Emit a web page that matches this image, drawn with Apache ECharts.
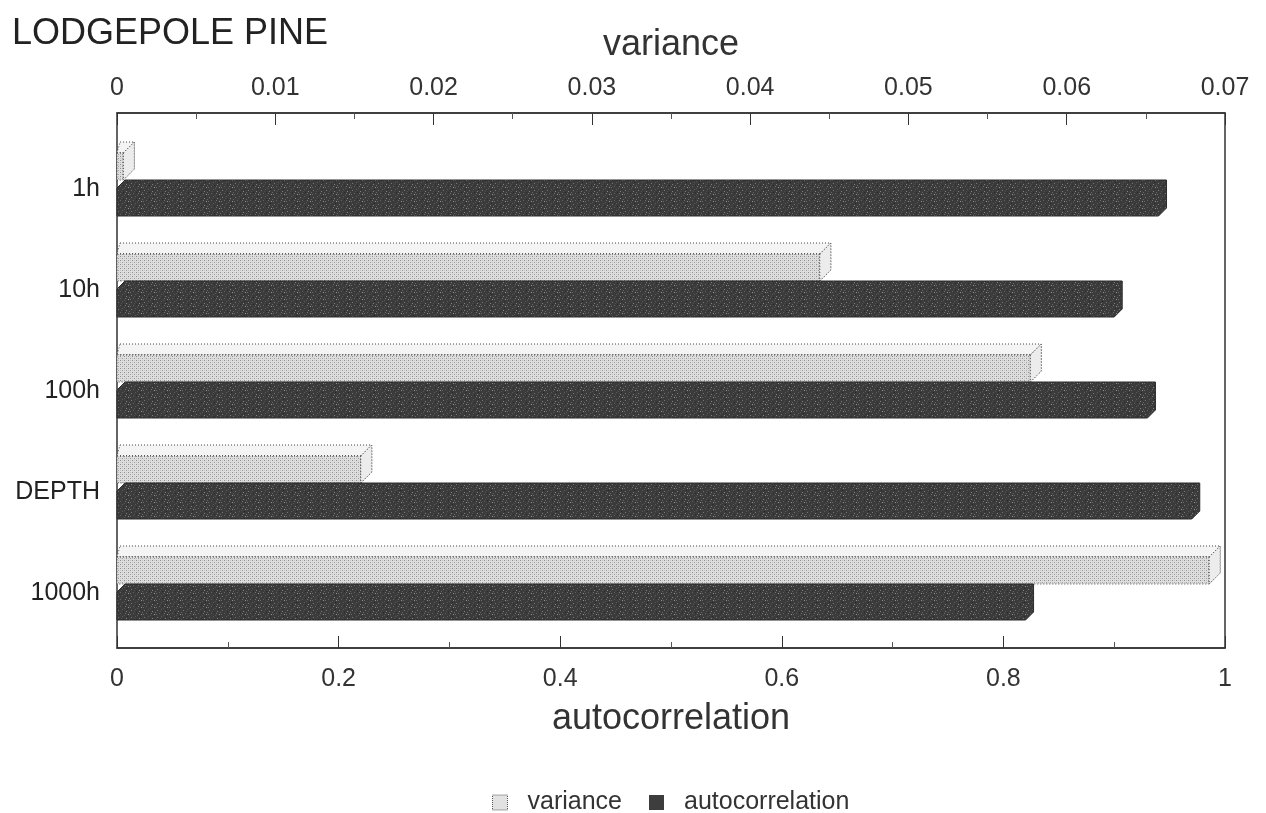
<!DOCTYPE html>
<html>
<head>
<meta charset="utf-8">
<title>LODGEPOLE PINE</title>
<script src="https://cdn.jsdelivr.net/npm/echarts@6.0.0/dist/echarts.min.js"></script>
<style>
html, body { margin: 0; padding: 0; background: #fff; }
#chart { width: 1266px; height: 813px; }
</style>
</head>
<body>
<div id="chart"></div>
<script>
// data
var categories = ['1h', '10h', '100h', 'DEPTH', '1000h'];
var varianceValues = [0.0004, 0.0444, 0.0577, 0.0154, 0.0690];
var autocorrValues = [0.94, 0.90, 0.93, 0.97, 0.82];

var FONT = 'Liberation Sans, Arial, sans-serif';

// small repeating textures for the bar faces
function makePattern(w, h, base, dots) {
    var c = document.createElement('canvas');
    c.width = w;
    c.height = h;
    var ctx = c.getContext('2d');
    ctx.fillStyle = base;
    ctx.fillRect(0, 0, w, h);
    for (var i = 0; i < dots.length; i++) {
        ctx.fillStyle = dots[i][2];
        ctx.fillRect(dots[i][0], dots[i][1], 1, 1);
    }
    return { image: c, repeat: 'repeat' };
}

var lightFill = makePattern(4, 4, '#dedede', [
    [0, 0, '#8e8e8e'], [2, 2, '#9c9c9c'], [2, 0, '#c6c6c6'], [0, 2, '#c6c6c6']
]);
var darkFill = makePattern(13, 7, '#3b3b3b', [
    [1, 1, '#777'], [5, 0, '#5a5a5a'], [9, 2, '#808080'], [3, 4, '#606060'],
    [11, 5, '#909090'], [7, 6, '#545454'], [0, 5, '#6a6a6a'], [6, 3, '#2a2a2a'],
    [10, 0, '#282828'], [12, 3, '#666'], [4, 2, '#4e4e4e'], [8, 4, '#707070']
]);

function toItems(vals) {
    var out = [];
    for (var i = 0; i < vals.length; i++) {
        out.push([vals[i], i]);
    }
    return out;
}

// 3D looking bar, light one sits above the band centre, dark one below
function renderBox(kind) {
    return function (params, api) {
        var cat = api.value(1);
        var start = api.coord([0, cat]);
        var end = api.coord([api.value(0), cat]);
        var u = api.size([0, 1])[1] / 101;
        var c = start[1];
        var x0 = start[0];
        var x1 = end[0];
        var d, yTop, yBot, lx;
        if (kind === 'light') {
            d = 11 * u;
            yTop = c - 25.5 * u;
            yBot = c + 1.5 * u;
            lx = x0 + 3;
            var dotted = { stroke: '#444', lineWidth: 1, lineDash: [1, 2] };
            return {
                type: 'group',
                children: [
                    { type: 'polygon', shape: { points: [[lx, yTop - d], [x1 + d, yTop - d], [x1 + d, yBot - d], [x1, yBot], [x1, yTop], [x0, yTop]] },
                      style: Object.assign({ fill: '#f4f4f4' }, dotted) },
                    { type: 'polyline', shape: { points: [[x0, yTop], [x1, yTop], [x1 + d, yTop - d]] },
                      style: Object.assign({ fill: null }, dotted) },
                    { type: 'rect', shape: { x: x0, y: yTop, width: Math.max(x1 - x0, 0), height: yBot - yTop },
                      style: Object.assign({ fill: lightFill }, dotted) },
                    { type: 'polygon', shape: { points: [[x1, yTop], [x1 + d, yTop - d], [x1 + d, yBot - d], [x1, yBot]] },
                      style: Object.assign({ fill: '#ececec' }, dotted) }
                ]
            };
        }
        d = 8 * u;
        yTop = c + 9.5 * u;
        yBot = c + 37.5 * u;
        return {
            type: 'polygon',
            shape: { points: [[x0, yTop], [x0 + d, yTop - d], [x1 + d, yTop - d], [x1 + d, yBot - d], [x1, yBot], [x0, yBot]] },
            style: { fill: darkFill, stroke: '#2b2b2b', lineWidth: 1 }
        };
    };
}

var chart = echarts.init(document.getElementById('chart'));

var option = {
    backgroundColor: '#fff',
    animation: false,
    title: {
        text: 'LODGEPOLE PINE',
        left: 7,
        top: 11,
        textStyle: { fontFamily: FONT, fontSize: 36, fontWeight: 'normal', color: '#222' }
    },
    legend: {
        left: 487,
        top: 785,
        itemWidth: 15,
        itemHeight: 15,
        itemGap: 27,
        textStyle: { fontFamily: FONT, fontSize: 25, color: '#333', padding: [0, 0, 0, 15] },
        data: [
            { name: 'variance', icon: 'rect', itemStyle: { color: '#e2e2e2', borderColor: '#555', borderWidth: 1, borderType: 'dotted' } },
            { name: 'autocorrelation', icon: 'rect', itemStyle: { color: '#3d3d3d' } }
        ]
    },
    grid: [
        { left: 117, right: 41, top: 128, height: 505 },
        { left: 117, right: 41, top: 113, bottom: 165, show: true, borderColor: '#333', borderWidth: 1.5 }
    ],
    xAxis: [
        {
            gridIndex: 1, type: 'value', position: 'top',
            min: 0, max: 0.07, interval: 0.01,
            name: 'variance', nameLocation: 'middle', nameGap: 50,
            nameTextStyle: { fontFamily: FONT, fontSize: 36, color: '#333' },
            axisLine: { show: true, onZero: false, lineStyle: { color: '#333', width: 1.5 } },
            axisTick: { show: true, inside: true, length: 12, lineStyle: { color: '#333' } },
            minorTick: { show: true, splitNumber: 2, length: 6, lineStyle: { color: '#555' } },
            splitLine: { show: false },
            axisLabel: { fontFamily: FONT, fontSize: 25, color: '#333', margin: 12 }
        },
        {
            gridIndex: 1, type: 'value', position: 'bottom',
            min: 0, max: 1, interval: 0.2,
            name: 'autocorrelation', nameLocation: 'middle', nameGap: 53,
            nameTextStyle: { fontFamily: FONT, fontSize: 36, color: '#333' },
            axisLine: { show: true, onZero: false, lineStyle: { color: '#333', width: 1.5 } },
            axisTick: { show: true, inside: true, length: 12, lineStyle: { color: '#333' } },
            minorTick: { show: true, splitNumber: 2, length: 6, lineStyle: { color: '#555' } },
            splitLine: { show: false },
            axisLabel: { fontFamily: FONT, fontSize: 25, color: '#333', margin: 19 }
        },
        { gridIndex: 0, type: 'value', min: 0, max: 0.07, show: false },
        { gridIndex: 0, type: 'value', min: 0, max: 1, show: false }
    ],
    yAxis: [
        {
            gridIndex: 0, type: 'category', data: categories, inverse: true,
            axisLine: { show: false },
            axisTick: { show: false },
            splitLine: { show: false },
            axisLabel: { fontFamily: FONT, fontSize: 25, color: '#222', margin: 17, verticalAlign: 'top', lineHeight: 21 }
        },
        { gridIndex: 1, type: 'value', show: false, min: 0, max: 1 }
    ],
    series: [
        {
            name: 'variance', type: 'custom',
            xAxisIndex: 2, yAxisIndex: 0,
            itemStyle: { color: '#e2e2e2' },
            renderItem: renderBox('light'),
            encode: { x: 0, y: 1 },
            data: toItems(varianceValues)
        },
        {
            name: 'autocorrelation', type: 'custom',
            xAxisIndex: 3, yAxisIndex: 0,
            itemStyle: { color: '#3d3d3d' },
            renderItem: renderBox('dark'),
            encode: { x: 0, y: 1 },
            data: toItems(autocorrValues)
        }
    ]
};

chart.setOption(option);
</script>
</body>
</html>
